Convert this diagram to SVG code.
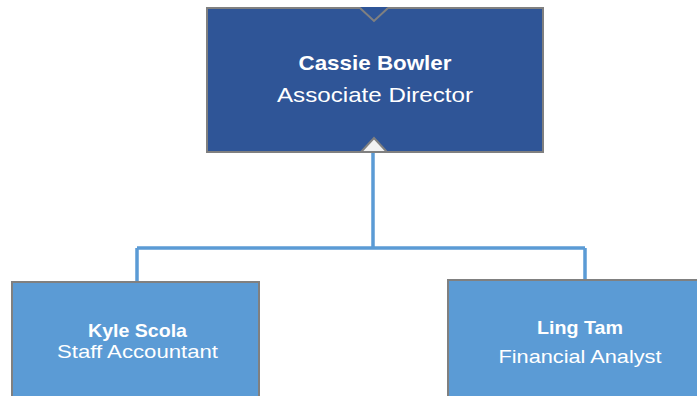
<svg xmlns="http://www.w3.org/2000/svg" width="697" height="396" viewBox="0 0 697 396">
<style>
.box{stroke:#808080;stroke-width:2}
.top{fill:#2F5597}
.sub{fill:#5B9BD5}
.conn{fill:none;stroke:#5B9BD5;stroke-width:3.5}
text{font-family:"Liberation Sans",Arial,sans-serif;fill:#FFFFFF;text-anchor:middle}
.b{font-weight:bold}
</style>
<rect width="697" height="396" fill="#FFFFFF"/>
<g id="connectors">
<path class="conn" d="M373,146 V248 M137,248 H585 M137,248 V282 M585,248 V280"/>
</g>
<g id="node-cassie">
<rect class="box top" x="207" y="8" width="336" height="144"/>
<polygon points="360,7 388,7 374,21" fill="#2F5597"/>
<polyline points="360,8 374,21 388,8" fill="none" stroke="#808080" stroke-width="2"/>
<polygon points="361,152 374,138 387,152" fill="#F2F2F2" stroke="#808080" stroke-width="2"/>
<text class="b" x="375" y="70" font-size="21" textLength="153" lengthAdjust="spacingAndGlyphs">Cassie Bowler</text>
<text x="375" y="102" font-size="21" textLength="196" lengthAdjust="spacingAndGlyphs">Associate Director</text>
</g>
<g id="node-kyle">
<rect class="box sub" x="12" y="282" width="247" height="130"/>
<text class="b" x="137.5" y="337" font-size="19" textLength="99" lengthAdjust="spacingAndGlyphs">Kyle Scola</text>
<text x="137.5" y="358" font-size="19" textLength="161" lengthAdjust="spacingAndGlyphs">Staff Accountant</text>
</g>
<g id="node-ling">
<rect class="box sub" x="448" y="280" width="260" height="130"/>
<text class="b" x="580" y="334" font-size="19" textLength="86" lengthAdjust="spacingAndGlyphs">Ling Tam</text>
<text x="580" y="363" font-size="19" textLength="163" lengthAdjust="spacingAndGlyphs">Financial Analyst</text>
</g>
</svg>
